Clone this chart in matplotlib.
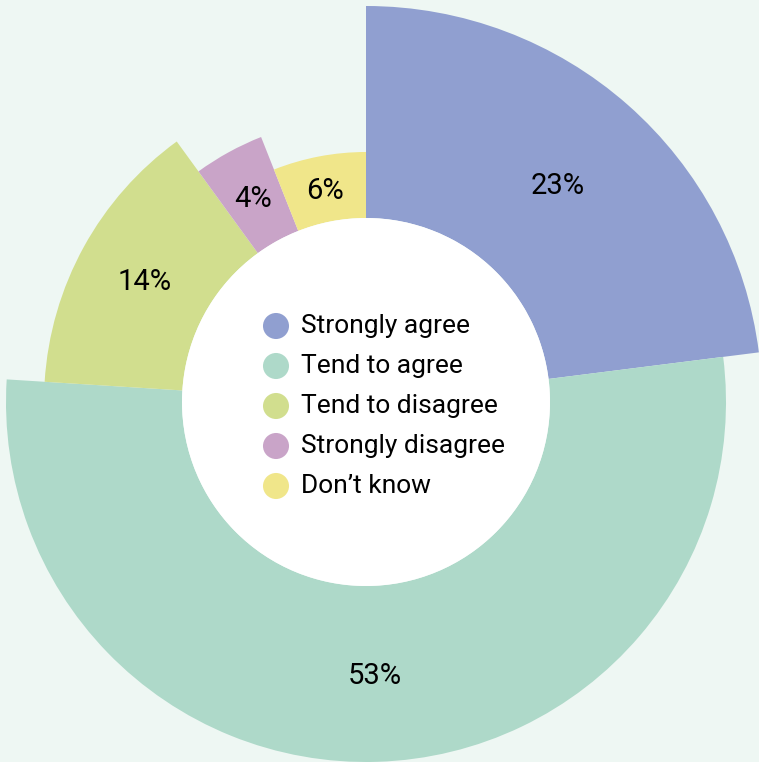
import numpy as np
import matplotlib.pyplot as plt
from matplotlib.patches import Wedge, Circle

# data
categories = ['Strongly agree', 'Tend to agree', 'Tend to disagree', 'Strongly disagree', 'Don\u2019t know']
values = [23, 53, 14, 4, 6]
labels = ['23%', '53%', '14%', '4%', '6%']

# style
colors = ['#909fd0', '#aed9c9', '#d1de8e', '#c9a4c8', '#f0e68a']
outer_r = [396, 360, 322, 285, 250]
inner_r = 184
cx, cy = 366, 762 - 402
bg = '#eef7f3'

plt.rcParams['font.family'] = ['Roboto', 'DejaVu Sans']

fig = plt.figure(figsize=(7.59, 7.62), dpi=100, facecolor=bg)
ax = fig.add_axes([0, 0, 1, 1])
ax.set_facecolor(bg)
ax.set_xlim(0, 759)
ax.set_ylim(0, 762)
ax.set_aspect('equal')
ax.axis('off')

total = sum(values)
start = 90.0
for v, c, r, lab in zip(values, colors, outer_r, labels):
    sweep = 360.0 * v / total
    end = start - sweep
    ax.add_patch(Wedge((cx, cy), r, end, start, width=r - inner_r,
                       facecolor=c, edgecolor='none'))
    mid = np.radians((start + end) / 2)
    rm = (r + inner_r) / 2
    ax.text(cx + rm * np.cos(mid), cy + rm * np.sin(mid) - 2, lab,
            ha='center', va='center', fontsize=21, color='black')
    start = end

ax.add_patch(Circle((cx, cy), inner_r, facecolor='white', edgecolor='none'))

# legend in the hole
ly0 = 762 - 326
for i, (cat, c) in enumerate(zip(categories, colors)):
    y = ly0 - i * 40
    ax.scatter([276], [y], s=26 ** 2 * 0.52, color=c, edgecolor='none', zorder=3)
    ax.text(301, y, cat, ha='left', va='center', fontsize=19, color='black')

fig.savefig('out.png', dpi=100, facecolor=bg)
